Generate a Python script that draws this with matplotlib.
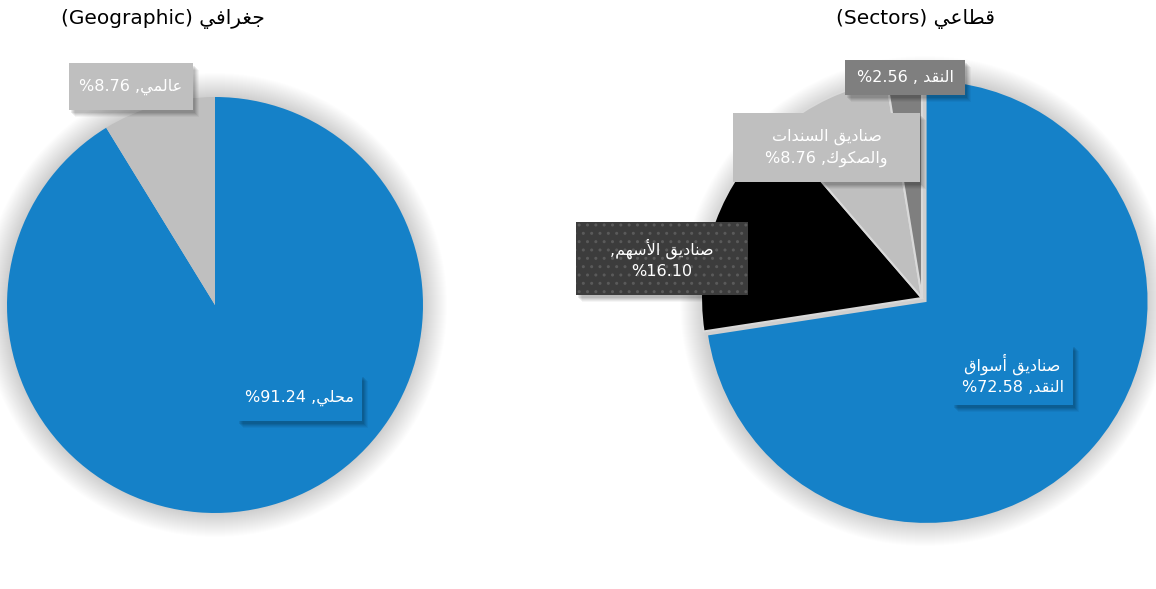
import matplotlib
matplotlib.use("Agg")
import matplotlib.pyplot as plt
from matplotlib.patches import Rectangle, Circle

# ---------------- data ----------------
geo_categories = ["محلي", "عالمي"]
geo_values = [91.24, 8.76]
geo_colors = ["#1581C8", "#BFBFBF"]

sector_categories = ["صناديق أسواق النقد", "صناديق الأسهم", "صناديق السندات والصكوك", "النقد"]
sector_values = [72.58, 16.10, 8.76, 2.56]
sector_colors = ["#1581C8", "#000000", "#BFBFBF", "#7F7F7F"]

title_geo = ("جغرافي", "(Geographic)")
title_sec = ("قطاعي", "(Sectors)")

# ---------------- minimal Arabic shaping (presentation forms) ----------------
FORMS = {
    'ج': ('\uFE9D', '\uFE9E', '\uFE9F', '\uFEA0'),
    'ح': ('\uFEA1', '\uFEA2', '\uFEA3', '\uFEA4'),
    'غ': ('\uFECD', '\uFECE', '\uFECF', '\uFED0'),
    'ف': ('\uFED1', '\uFED2', '\uFED3', '\uFED4'),
    'ي': ('\uFEF1', '\uFEF2', '\uFEF3', '\uFEF4'),
    'ق': ('\uFED5', '\uFED6', '\uFED7', '\uFED8'),
    'ط': ('\uFEC1', '\uFEC2', '\uFEC3', '\uFEC4'),
    'ع': ('\uFEC9', '\uFECA', '\uFECB', '\uFECC'),
    'ل': ('\uFEDD', '\uFEDE', '\uFEDF', '\uFEE0'),
    'م': ('\uFEE1', '\uFEE2', '\uFEE3', '\uFEE4'),
    'ن': ('\uFEE5', '\uFEE6', '\uFEE7', '\uFEE8'),
    'ص': ('\uFEB9', '\uFEBA', '\uFEBB', '\uFEBC'),
    'س': ('\uFEB1', '\uFEB2', '\uFEB3', '\uFEB4'),
    'ت': ('\uFE95', '\uFE96', '\uFE97', '\uFE98'),
    'ك': ('\uFED9', '\uFEDA', '\uFEDB', '\uFEDC'),
    'ه': ('\uFEE9', '\uFEEA', '\uFEEB', '\uFEEC'),
    'ا': ('\uFE8D', '\uFE8E', None, None),
    'أ': ('\uFE83', '\uFE84', None, None),
    'ر': ('\uFEAD', '\uFEAE', None, None),
    'د': ('\uFEA9', '\uFEAA', None, None),
    'و': ('\uFEED', '\uFEEE', None, None),
}
LAMALEF = {'ا': ('\uFEFB', '\uFEFC'), 'أ': ('\uFEF7', '\uFEF8')}


def dual(c):
    return c in FORMS and FORMS[c][2] is not None


def shape_word(word):
    out = []
    i, n = 0, len(word)
    while i < n:
        c = word[i]
        prev_j = i > 0 and dual(word[i - 1])
        if c == 'ل' and i + 1 < n and word[i + 1] in LAMALEF:
            out.append(LAMALEF[word[i + 1]][1 if prev_j else 0])
            i += 2
            continue
        f = FORMS[c]
        next_j = dual(c) and i + 1 < n and word[i + 1] in FORMS
        if prev_j and next_j:
            out.append(f[3])
        elif prev_j:
            out.append(f[1])
        elif next_j:
            out.append(f[2])
        else:
            out.append(f[0])
        i += 1
    return ''.join(reversed(out))


def shape_phrase(phrase):
    # visual order: words reversed (RTL)
    return ' '.join(shape_word(w) for w in reversed(phrase.split()))


def pct(v):
    return "%" + f"{v:.2f}"


# ---------------- figure ----------------
W, H = 1156, 589
fig = plt.figure(figsize=(W / 100, H / 100), dpi=100)
ax = fig.add_axes([0, 0, 1, 1])
ax.set_axis_off()

plt.rcParams['font.family'] = ['DejaVu Sans']


def py(y):
    return H - y


def glow(cx, cy, r, n=24, a=0.006):
    for k in range(n, 0, -1):
        ax.add_patch(Circle((cx, py(cy)), r + k, color='black', alpha=a, lw=0, zorder=0))


def label_box(x0, y0, x1, y1, color, lines, hatch=None):
    # soft shadow
    for k, a in [(7, 0.04), (6, 0.05), (5, 0.06), (4, 0.07), (3, 0.08)]:
        ax.add_patch(Rectangle((x0 + k - 1, py(y1 + k)), x1 - x0, y1 - y0,
                               facecolor='black', alpha=a, lw=0, zorder=5))
    ax.add_patch(Rectangle((x0, py(y1)), x1 - x0, y1 - y0, facecolor=color,
                           edgecolor='#5a5a5a' if hatch else 'none', hatch=hatch,
                           lw=0, zorder=6))
    ax.text((x0 + x1) / 2, py((y0 + y1) / 2), "\n".join(lines), ha='center', va='center',
            color='white', fontsize=11.5, zorder=7, linespacing=1.45,
            family=['DejaVu Sans'])


# ---- left pie ----
gcx, gcy, gr = 215, 305, 208
glow(gcx, gcy, gr)
ax.pie(geo_values, colors=geo_colors, startangle=90, counterclock=False,
       center=(gcx, py(gcy)), radius=gr, wedgeprops=dict(linewidth=0))

# ---- right pie ----
scx, scy, sr = 922, 298, 221
glow(scx + 3, scy + 3, sr)
wedges, _ = ax.pie(sector_values, colors=sector_colors, startangle=90, counterclock=False,
                   center=(scx, py(scy)), radius=sr, explode=[6, 0, 0, 0],
                   wedgeprops=dict(linewidth=1.5, edgecolor='#D9D9D9'))
wedges[0].set_edgecolor('none')
wedges[0].set_zorder(1)

ax.set_xlim(0, W)
ax.set_ylim(0, H)
ax.set_aspect('auto')

# ---- titles ----
ax.text(163, py(19), title_geo[1] + " " + shape_word(title_geo[0]), ha='center', va='center',
        fontsize=14.5, color='#000000')
ax.text(915, py(19), title_sec[1] + " " + shape_word(title_sec[0]), ha='center', va='center',
        fontsize=14.5, color='#000000')

# ---- labels ----
label_box(69, 63, 193, 110, geo_colors[1],
          [pct(geo_values[1]) + " ," + shape_phrase(geo_categories[1])])
label_box(237, 374, 362, 421, geo_colors[0],
          [pct(geo_values[0]) + " ," + shape_phrase(geo_categories[0])])

label_box(845, 60, 965, 95, sector_colors[3],
          [pct(sector_values[3]) + " , " + shape_phrase(sector_categories[3])])
sw = sector_categories[2].split()
label_box(733, 113, 920, 182, sector_colors[2],
          [shape_phrase(" ".join(sw[:2])), pct(sector_values[2]) + " ," + shape_phrase(sw[2])])
label_box(576, 222, 748, 295, '#3C3C3C',
          ["," + shape_phrase(sector_categories[1]), pct(sector_values[1])], hatch='..')
mw = sector_categories[0].split()
label_box(952, 344, 1073, 405, sector_colors[0],
          [shape_phrase(" ".join(mw[:2])), pct(sector_values[0]) + " ," + shape_phrase(mw[2])])

fig.savefig("out.png", dpi=100)
